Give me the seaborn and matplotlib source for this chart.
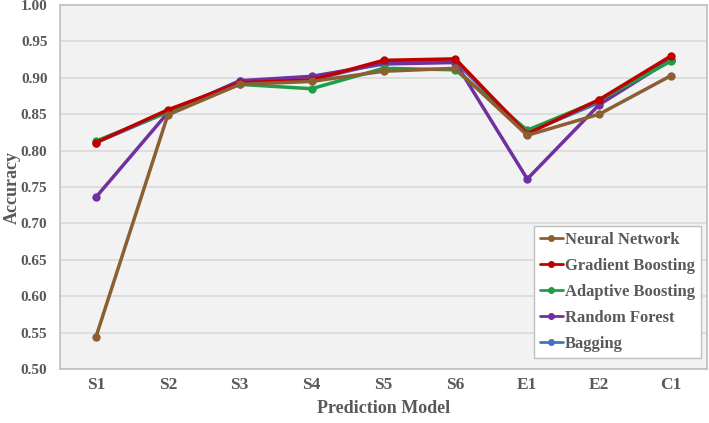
import numpy as np
import pandas as pd
import seaborn as sns
import matplotlib.pyplot as plt

# accuracy per prediction model
models = ["S1", "S2", "S3", "S4", "S5", "S6", "E1", "E2", "C1"]
bagging = [0.811, 0.853, 0.895, 0.897, 0.921, 0.922, 0.825, 0.866, 0.925]
random_forest = [0.736, 0.852, 0.896, 0.902, 0.919, 0.921, 0.761, 0.863, 0.925]
adaptive_boosting = [0.813, 0.853, 0.891, 0.885, 0.913, 0.911, 0.828, 0.869, 0.923]
gradient_boosting = [0.811, 0.856, 0.893, 0.897, 0.924, 0.926, 0.823, 0.870, 0.930]
neural_network = [0.544, 0.849, 0.891, 0.895, 0.909, 0.913, 0.821, 0.850, 0.903]

series = {
    "Bagging": bagging,
    "Random Forest": random_forest,
    "Adaptive Boosting": adaptive_boosting,
    "Gradient Boosting": gradient_boosting,
    "Neural Network": neural_network,
}
colors = {
    "Neural Network": "#8c5e34",
    "Gradient Boosting": "#c00000",
    "Adaptive Boosting": "#1f9e4a",
    "Random Forest": "#7030a0",
    "Bagging": "#4472c4",
}
legend_order = ["Neural Network", "Gradient Boosting", "Adaptive Boosting",
                "Random Forest", "Bagging"]

rows = []
for name, vals in series.items():
    for m, v in zip(models, vals):
        rows.append({"Model": m, "Accuracy": v, "Series": name})
df = pd.DataFrame(rows)
df["x"] = df["Model"].map({m: i for i, m in enumerate(models)})

sns.set_theme(style="white")
plt.rcParams['font.family'] = ['Liberation Serif', 'DejaVu Serif']
text_col = "#595959"

fig, ax = plt.subplots(figsize=(7.09, 4.23), dpi=100)
fig.subplots_adjust(left=60 / 709, right=707 / 709, top=1 - 5 / 423, bottom=1 - 369 / 423)
ax.set_facecolor("#f2f2f2")

sns.lineplot(data=df, x="x", y="Accuracy", hue="Series", palette=colors,
             hue_order=list(series.keys()), marker="o", markersize=6,
             markeredgewidth=0, linewidth=2.5, ax=ax, legend=False, sort=False)

ax.set_xlim(-0.5, len(models) - 0.5)
ax.set_ylim(0.5, 1.0)
yt = np.arange(0.5, 1.001, 0.05)
ax.set_yticks(yt)
ax.set_yticklabels([f"{t:.2f}" for t in yt])
ax.set_xticks(range(len(models)))
ax.set_xticklabels(models)
ax.grid(axis="y", color="#d9d9d9", linewidth=1.2)
ax.set_axisbelow(True)
for s in ax.spines.values():
    s.set_color("#bfbfbf")
    s.set_linewidth(1.2)
ax.tick_params(axis="both", length=0, colors=text_col)
for lab in ax.get_yticklabels():
    lab.set_fontsize(11)
    lab.set_fontweight("bold")
for lab in ax.get_xticklabels():
    lab.set_fontsize(12.5)
    lab.set_fontweight("bold")
ax.tick_params(axis="x", pad=6)
ax.tick_params(axis="y", pad=9)

ax.set_xlabel("Prediction Model", fontsize=13, fontweight="bold", color=text_col)
ax.set_ylabel("Accuracy", fontsize=13, fontweight="bold", color=text_col)
ax.xaxis.set_label_coords(0.5, -0.086)
ax.yaxis.set_label_coords(-0.06, 0.5)

handles = [plt.Line2D([], [], color=colors[n], marker="o", markersize=4,
                      linewidth=2) for n in legend_order]
leg = ax.legend(handles, legend_order, loc="lower right", bbox_to_anchor=(0.99, 0.03),
                frameon=True, fancybox=False, framealpha=1, edgecolor="#bfbfbf",
                handlelength=1.4, handletextpad=0.1, borderpad=0.35, labelspacing=0.6,
                borderaxespad=0,
                prop={"family": "Liberation Serif", "weight": "bold", "size": 12})
leg.get_frame().set_linewidth(1.0)
for t in leg.get_texts():
    t.set_color(text_col)

fig.savefig("out.png", dpi=100)
